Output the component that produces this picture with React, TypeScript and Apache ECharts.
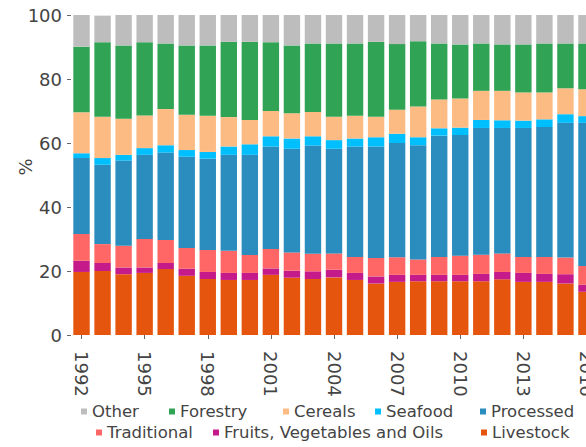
import React, { useEffect, useRef } from "react";
import * as echarts from "echarts";

const years = [
  "1992", "1993", "1994", "1995", "1996", "1997", "1998", "1999", "2000", "2001",
  "2002", "2003", "2004", "2005", "2006", "2007", "2008", "2009", "2010", "2011",
  "2012", "2013", "2014", "2015", "2016",
];

const livestock = [19.7, 20.0, 19.0, 19.4, 20.6, 18.5, 17.5, 17.2, 17.2, 18.8, 17.9, 17.5, 18.0, 17.2, 16.1, 16.6, 16.8, 16.8, 16.8, 16.8, 17.4, 16.6, 16.6, 16.1, 13.5];
const fruitsVegOils = [3.5, 2.5, 2.1, 1.7, 1.9, 2.2, 2.2, 2.2, 2.2, 2.0, 2.2, 2.4, 2.4, 2.2, 2.2, 2.2, 2.0, 2.0, 2.0, 2.3, 2.3, 2.8, 2.5, 2.9, 2.2];
const traditional = [8.4, 5.9, 6.8, 8.9, 7.2, 6.5, 6.9, 6.9, 5.6, 6.1, 5.7, 5.5, 5.1, 5.0, 5.8, 5.5, 4.8, 5.6, 6.0, 6.0, 5.8, 5.0, 5.3, 5.2, 5.9];
const processed = [23.7, 24.8, 26.6, 26.3, 27.3, 28.5, 28.5, 30.0, 31.3, 32.0, 32.4, 33.8, 32.7, 34.5, 34.8, 35.7, 35.7, 37.9, 37.7, 39.6, 39.2, 40.3, 40.6, 42.1, 44.7];
const seafood = [1.5, 2.1, 1.8, 2.1, 2.3, 2.1, 2.1, 2.6, 3.3, 3.2, 3.2, 2.9, 2.7, 2.5, 2.9, 2.9, 2.5, 2.3, 2.3, 2.5, 2.4, 2.3, 2.4, 2.7, 2.1];
const cereals = [12.8, 12.9, 11.3, 10.2, 11.3, 11.0, 11.3, 9.2, 7.6, 7.9, 7.9, 7.6, 7.3, 7.1, 6.4, 7.5, 9.6, 9.0, 9.1, 9.1, 9.2, 8.8, 8.4, 8.1, 8.4];
const forestry = [20.5, 23.3, 22.9, 22.9, 20.5, 21.7, 22.0, 23.5, 24.4, 21.5, 21.2, 21.4, 22.9, 22.6, 23.4, 20.5, 20.4, 17.5, 16.9, 14.8, 14.5, 15.0, 15.3, 14.0, 14.3];
const other = [9.9, 8.3, 9.5, 8.5, 8.9, 9.5, 9.5, 8.4, 8.4, 8.5, 9.5, 8.9, 8.9, 8.9, 8.4, 9.2, 8.2, 8.9, 9.2, 8.9, 9.2, 9.2, 8.9, 8.9, 8.9];

const yTicks = [0, 20, 40, 60, 80, 100];

const seriesDefs = [
  { name: "Livestock", data: livestock, color: "#e6550d" },
  { name: "Fruits, Vegetables and Oils", data: fruitsVegOils, color: "#c51b8a" },
  { name: "Traditional", data: traditional, color: "#ff6666" },
  { name: "Processed", data: processed, color: "#2b8cbe" },
  { name: "Seafood", data: seafood, color: "#00bfff" },
  { name: "Cereals", data: cereals, color: "#fdbb84" },
  { name: "Forestry", data: forestry, color: "#31a354" },
  { name: "Other", data: other, color: "#bdbdbd" },
];

// legend layout: [name, text start x, row center y]
const legendLayout: [string, number, number][] = [
  ["Other", 92, 412],
  ["Forestry", 180, 412],
  ["Cereals", 294, 412],
  ["Seafood", 386, 412],
  ["Processed", 491, 412],
  ["Traditional", 107, 433],
  ["Fruits, Vegetables and Oils", 224, 433],
  ["Livestock", 492, 433],
];

const FONT = "DejaVu Sans";
const TXT = "#444";

export default function App() {
  const ref = useRef<HTMLDivElement>(null);
  useEffect(() => {
    if (!ref.current) return;
    const chart = echarts.init(ref.current, undefined, { renderer: "svg" });
    const fs = 16.5;
    chart.setOption({
      animation: false,
      backgroundColor: "#fff",
      textStyle: { fontFamily: FONT },
      grid: { left: 71, top: 15, width: 526, height: 320 },
      legend: legendLayout.map(([name, x, cy]) => ({
        data: [name],
        left: x - 11,
        top: cy - 9,
        padding: 0,
        itemWidth: 6,
        itemHeight: 6,
        icon: "rect",
        selectedMode: false,
        textStyle: { fontFamily: FONT, fontSize: fs, color: TXT },
      })),
      xAxis: {
        type: "category",
        data: years,
        axisLine: { show: false },
        axisTick: {
          show: true,
          alignWithLabel: true,
          interval: 2,
          length: 4,
          lineStyle: { color: "#666" },
        },
        axisLabel: {
          interval: 2,
          rotate: -90,
          margin: 16,
          fontSize: 18,
          fontFamily: FONT,
          color: TXT,
        },
      },
      yAxis: {
        type: "value",
        min: yTicks[0],
        max: yTicks[yTicks.length - 1],
        interval: 20,
        splitLine: { show: false },
        axisLine: { show: false },
        axisTick: { show: true, length: 4, lineStyle: { color: "#666" } },
        axisLabel: { margin: 9, fontSize: 18, fontFamily: FONT, color: TXT },
      },
      graphic: [
        {
          type: "text",
          x: 25,
          y: 167,
          rotation: Math.PI / 2,
          style: {
            text: "%",
            fontSize: 18,
            fontFamily: FONT,
            fill: TXT,
            align: "center",
            verticalAlign: "middle",
          },
        },
      ],
      series: seriesDefs.map((s) => ({
        name: s.name,
        type: "bar",
        stack: "total",
        data: s.data,
        barCategoryGap: "22%",
        itemStyle: { color: s.color },
      })),
    });
    return () => chart.dispose();
  }, []);
  return (
    <div
      style={{
        position: "fixed",
        left: 0,
        top: 0,
        width: 586,
        height: 447,
        overflow: "hidden",
        background: "#fff",
      }}
    >
      <div ref={ref} style={{ width: 640, height: 447 }} />
    </div>
  );
}
